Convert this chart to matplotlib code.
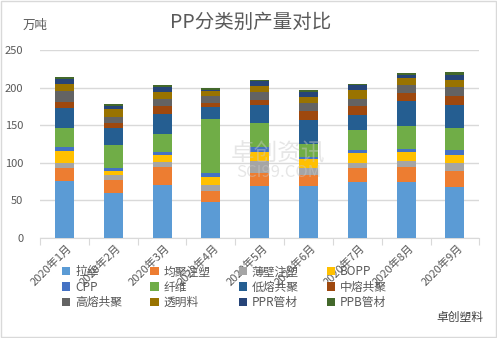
import numpy as np
import matplotlib
matplotlib.use("Agg")
from matplotlib import pyplot as plt
from matplotlib.patches import Rectangle

plt.rcParams['font.family'] = ['Noto Sans CJK SC', 'DejaVu Sans']

# months on the x axis
months = ["2020年1月", "2020年2月", "2020年3月", "2020年4月", "2020年5月",
          "2020年6月", "2020年7月", "2020年8月", "2020年9月"]

# output per grade, 万吨
lasi = [75.2, 59.2, 69.9, 47.6, 69.0, 69.0, 74.4, 74.4, 67.2]
junju = [17.9, 17.4, 24.0, 14.3, 16.9, 14.3, 18.7, 19.5, 21.4]
bobi = [6.2, 6.7, 6.7, 8.0, 16.1, 9.8, 6.2, 8.1, 10.7]
bopp = [16.0, 5.3, 9.4, 10.7, 12.4, 11.5, 13.3, 12.4, 10.7]
cpp = [5.4, 4.5, 4.0, 5.3, 6.3, 2.7, 4.5, 3.6, 7.1]
xianwei = [25.3, 30.2, 24.0, 72.2, 32.0, 17.8, 26.7, 30.7, 28.9]
dirong = [27.2, 22.7, 27.2, 16.0, 24.1, 31.6, 19.6, 33.4, 30.8]
zhongrong = [8.0, 6.7, 10.2, 5.3, 7.1, 12.0, 12.5, 10.7, 12.4]
gaorong = [14.3, 8.0, 9.4, 9.8, 10.2, 10.7, 8.9, 10.7, 11.6]
touming = [9.3, 10.7, 9.3, 6.3, 8.0, 8.0, 12.4, 9.3, 9.8]
ppr = [6.7, 4.5, 6.7, 1.3, 6.3, 6.7, 6.3, 4.0, 6.2]
ppb = [3.1, 2.2, 2.7, 2.7, 1.8, 2.7, 1.3, 2.7, 4.0]

series = [lasi, junju, bobi, bopp, cpp, xianwei, dirong, zhongrong,
          gaorong, touming, ppr, ppb]
names = ["拉丝", "均聚注塑", "薄壁注塑", "BOPP", "CPP", "纤维", "低熔共聚",
         "中熔共聚", "高熔共聚", "透明料", "PPR管材", "PPB管材"]
colors = ["#5B9BD5", "#ED7D31", "#A5A5A5", "#FFC000", "#4472C4", "#70AD47",
          "#255E91", "#9E480E", "#636363", "#997300", "#264478", "#43682B"]

txt = "#595959"

fig = plt.figure(figsize=(4.97, 3.38), dpi=100)
ax = fig.add_axes([0.0805, 0.296, 0.884, 0.556])

x = np.arange(len(months))
bottom = np.zeros(len(months))
handles = []
for vals, name, c in zip(series, names, colors):
    b = ax.bar(x, vals, 0.39, bottom=bottom, color=c, label=name, zorder=3)
    handles.append(b)
    bottom += np.array(vals)

ax.set_xlim(-0.5, len(months) - 0.5)
ax.set_ylim(0, 250)
ax.set_yticks(range(0, 251, 50))
ax.yaxis.grid(True, color="#D9D9D9", linewidth=1, zorder=0)
ax.tick_params(axis="y", length=0, labelsize=8, labelcolor=txt, pad=12)
for s in ["left", "right", "top"]:
    ax.spines[s].set_visible(False)
ax.spines["bottom"].set_color("#D9D9D9")

# category boundary ticks below the axis
ax.set_xticks(np.arange(-0.5, len(months), 1.0))
ax.set_xticklabels([])
ax.tick_params(axis="x", length=5, color="#D9D9D9")
for i, m in enumerate(months):
    ax.text(i + 0.05, -6, m, rotation=45, ha="right", va="top",
            rotation_mode="anchor", fontsize=8, color=txt)

fig.text(0.045, 0.925, "万吨", fontsize=9, color=txt, va="center")
fig.text(0.505, 0.935, "PP分类别产量对比", fontsize=14, color=txt,
         ha="center", va="center")

# legend fills by column, so reorder to read across rows
order = [0, 4, 8, 1, 5, 9, 2, 6, 10, 3, 7, 11]
fig.legend(handles=[handles[k] for k in order],
           labels=[names[k] for k in order], ncol=4, loc="upper left",
           bbox_to_anchor=(0.125, 0.215), frameon=False, fontsize=8.5,
           handlelength=0.7, handleheight=0.7, handletextpad=0.4,
           columnspacing=2.4, labelspacing=0.2, labelcolor=txt,
           borderpad=0, borderaxespad=0)

# faint watermark in the middle of the plot
fig.text(0.56, 0.545, "卓创资讯", fontsize=17, color="#C8C8C8", alpha=0.45,
         ha="center", va="center", zorder=5)
fig.text(0.56, 0.49, "SCI99.COM", fontsize=12, color="#C8C8C8", alpha=0.45,
         ha="center", va="center", zorder=5)
fig.text(0.925, 0.062, "卓创塑料", fontsize=8.5, color="#404040",
         ha="center", va="center")

fig.patches.append(Rectangle((0.002, 0.003), 0.995, 0.994,
                             transform=fig.transFigure, fill=False,
                             edgecolor="#D9D9D9", linewidth=1))

fig.savefig("out.png", dpi=100)
